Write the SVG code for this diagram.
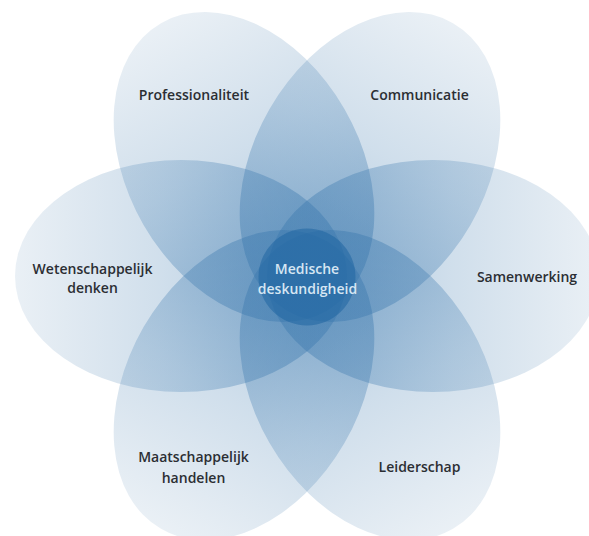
<svg xmlns="http://www.w3.org/2000/svg" width="589" height="536" viewBox="0 0 589 536">
  <defs>
    <linearGradient id="petal" gradientUnits="userSpaceOnUse" x1="-166" y1="0" x2="166" y2="0">
      <stop offset="0" stop-color="#3d76a8" stop-opacity="0.11"/>
      <stop offset="0.45" stop-color="#3a78ae" stop-opacity="0.24"/>
      <stop offset="1" stop-color="#3a78ae" stop-opacity="0.45"/>
    </linearGradient>
    <style>
      .petal { fill: url(#petal); }
      .lbl { font-family: "Open Sans", "Noto Sans", "Liberation Sans", sans-serif; font-size: 14px; font-weight: 600; fill: #2b2e33; text-anchor: middle; }
      .core { font-family: "Open Sans", "Noto Sans", "Liberation Sans", sans-serif; font-size: 14px; font-weight: 600; fill: #d6e6f3; text-anchor: middle; }
    </style>
  </defs>
  <rect width="589" height="536" fill="#ffffff"/>
  <g id="petals">
    <g id="wetenschappelijk" transform="translate(181 276) rotate(0)"><ellipse class="petal" cx="0" cy="0" rx="166" ry="116"/></g>
    <g id="samenwerking" transform="translate(433 276) rotate(180)"><ellipse class="petal" cx="0" cy="0" rx="166" ry="116"/></g>
    <g id="professionaliteit" transform="translate(244 166.9) rotate(60)"><ellipse class="petal" cx="0" cy="0" rx="166" ry="116"/></g>
    <g id="communicatie" transform="translate(370 166.9) rotate(120)"><ellipse class="petal" cx="0" cy="0" rx="166" ry="116"/></g>
    <g id="maatschappelijk" transform="translate(244 385.1) rotate(-60)"><ellipse class="petal" cx="0" cy="0" rx="166" ry="116"/></g>
    <g id="leiderschap" transform="translate(370 385.1) rotate(-120)"><ellipse class="petal" cx="0" cy="0" rx="166" ry="116"/></g>
  </g>
  <g id="medische">
    <circle cx="307" cy="277" r="48.5" fill="#1a62a0" fill-opacity="0.5"/>
    <text class="core" x="307" y="273.5">Medische</text>
    <text class="core" x="307.5" y="294">deskundigheid</text>
  </g>
  <g id="labels">
    <text class="lbl" x="194" y="100">Professionaliteit</text>
    <text class="lbl" x="419.5" y="100">Communicatie</text>
    <text class="lbl" x="92.5" y="273.5">Wetenschappelijk</text>
    <text class="lbl" x="92.5" y="293">denken</text>
    <text class="lbl" x="527" y="282">Samenwerking</text>
    <text class="lbl" x="193.5" y="461.5">Maatschappelijk</text>
    <text class="lbl" x="193.5" y="483">handelen</text>
    <text class="lbl" x="419.5" y="472">Leiderschap</text>
  </g>
</svg>
